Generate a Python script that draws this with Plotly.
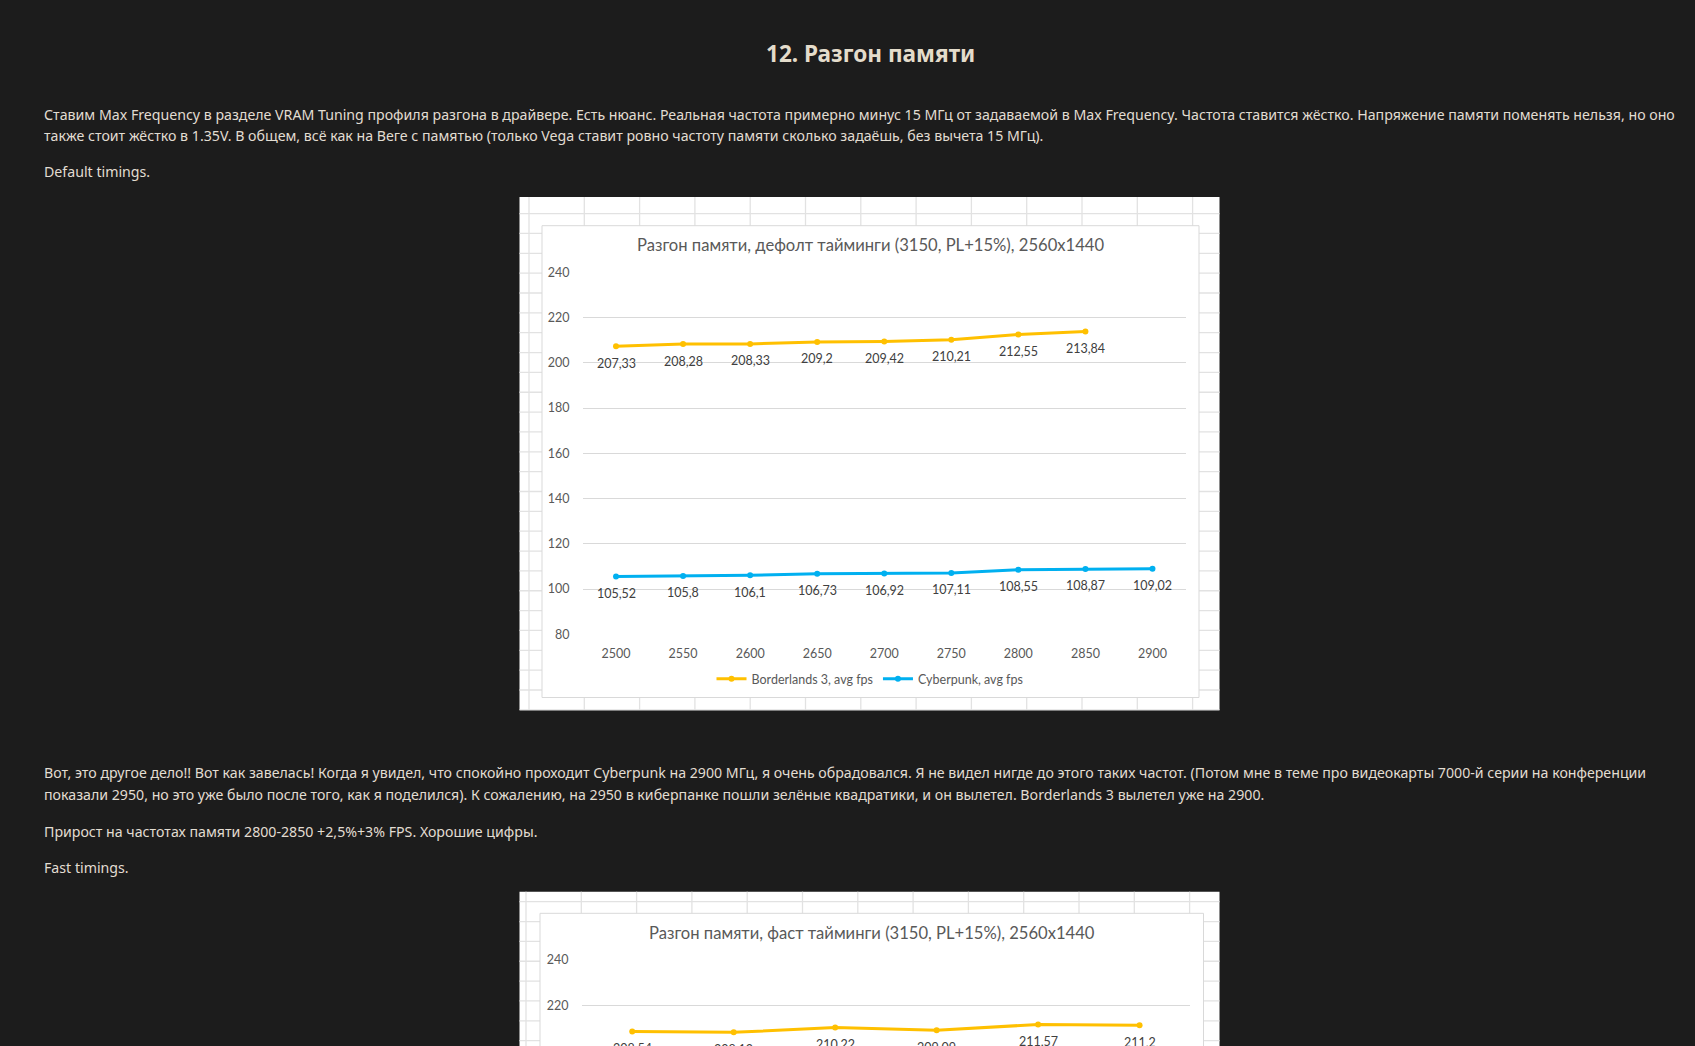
import plotly.graph_objects as go

W, H = 1695, 1046

# ---------------- data ----------------
freq_default = ["2500", "2550", "2600", "2650", "2700", "2750", "2800", "2850", "2900"]
bl3_default = [207.33, 208.28, 208.33, 209.2, 209.42, 210.21, 212.55, 213.84, None]
cp_default = [105.52, 105.8, 106.1, 106.73, 106.92, 107.11, 108.55, 108.87, 109.02]

freq_fast = ["2500", "2550", "2600", "2650", "2700", "2750"]
bl3_fast = [208.54, 208.12, 210.22, 209.09, 211.57, 211.2]

y_ticks = [80, 100, 120, 140, 160, 180, 200, 220, 240]

page_title = "12. Разгон памяти"
para_lines = [
    ("Ставим Max Frequency в разделе VRAM Tuning профиля разгона в драйвере. Есть нюанс. Реальная частота примерно минус 15 МГц от задаваемой в Max Frequency. Частота ставится жёстко. Напряжение памяти поменять нельзя, но оно", 114),
    ("также стоит жёстко в 1.35V. В общем, всё как на Веге с памятью (только Vega ставит ровно частоту памяти сколько задаёшь, без вычета 15 МГц).", 135.5),
    ("Default timings.", 171),
    ("Вот, это другое дело!! Вот как завелась! Когда я увидел, что спокойно проходит Cyberpunk на 2900 МГц, я очень обрадовался. Я не видел нигде до этого таких частот. (Потом мне в теме про видеокарты 7000-й серии на конференции", 772.5),
    ("показали 2950, но это уже было после того, как я поделился). К сожалению, на 2950 в киберпанке пошли зелёные квадратики, и он вылетел. Borderlands 3 вылетел уже на 2900.", 794),
    ("Прирост на частотах памяти 2800-2850 +2,5%+3% FPS. Хорошие цифры.", 831),
    ("Fast timings.", 867),
]
chart1_title = "Разгон памяти, дефолт тайминги (3150, PL+15%), 2560x1440"
chart2_title = "Разгон памяти, фаст тайминги (3150, PL+15%), 2560x1440"
name_bl3 = "Borderlands 3, avg fps"
name_cp = "Cyberpunk, avg fps"

# ---------------- style ----------------
BG = "#1c1c1c"
TXT = "#e2ddd2"
TITLE_TXT = "#e4dccb"
ORANGE = "#FFC000"
BLUE = "#00B0F0"
AX_TXT = "#595959"
LBL_TXT = "#404040"
GRID = "#d9d9d9"
SHEET = "#e2e2e2"
PAGE_FONT = "Noto Sans"
CH_FONT = "Lato, Carlito, Noto Sans"


def px(xp):
    return xp / W


def py(yp):
    return 1 - yp / H


def fmt(v):
    return f"{v:g}".replace(".", ",")


fig = go.Figure()

# traces chart 1
fig.add_trace(go.Scatter(x=freq_default, y=bl3_default, name=name_bl3, mode="lines+markers",
                         line=dict(color=ORANGE, width=3), marker=dict(color=ORANGE, size=6),
                         xaxis="x", yaxis="y", connectgaps=False))
fig.add_trace(go.Scatter(x=freq_default, y=cp_default, name=name_cp, mode="lines+markers",
                         line=dict(color=BLUE, width=3), marker=dict(color=BLUE, size=6),
                         xaxis="x", yaxis="y"))
# chart 2
fig.add_trace(go.Scatter(x=freq_fast, y=bl3_fast, name=name_bl3, mode="lines+markers",
                         line=dict(color=ORANGE, width=3), marker=dict(color=ORANGE, size=6),
                         xaxis="x2", yaxis="y2", showlegend=False))

annotations = []
# data labels (x given as category index)
for xs, ys, xr, yr in [(freq_default, bl3_default, "x", "y"), (freq_default, cp_default, "x", "y"),
                       (freq_fast, bl3_fast, "x2", "y2")]:
    for i, (xv, yv) in enumerate(zip(xs, ys)):
        if yv is None:
            continue
        annotations.append(dict(x=i, y=yv, xref=xr, yref=yr, text=fmt(yv), showarrow=False,
                                yshift=-17, font=dict(family=CH_FONT, size=12.5, color=LBL_TXT)))

# page title and text
annotations.append(dict(x=px(870), y=py(54), xref="paper", yref="paper", text=f"<b>{page_title}</b>",
                        showarrow=False, xanchor="center", yanchor="middle",
                        font=dict(family=PAGE_FONT, size=22.6, color=TITLE_TXT)))
for t, yp in para_lines:
    annotations.append(dict(x=px(42), y=py(yp), xref="paper", yref="paper", text=t, showarrow=False,
                            xanchor="left", yanchor="middle",
                            font=dict(family=PAGE_FONT, size=14.18, color=TXT)))
# chart titles
annotations.append(dict(x=px(870.5), y=py(245), xref="paper", yref="paper", text=chart1_title,
                        showarrow=False, xanchor="center", yanchor="middle",
                        font=dict(family=CH_FONT, size=16.6, color=AX_TXT)))
annotations.append(dict(x=px(872), y=py(933), xref="paper", yref="paper", text=chart2_title,
                        showarrow=False, xanchor="center", yanchor="middle",
                        font=dict(family=CH_FONT, size=16.6, color=AX_TXT)))

# ---------------- background shapes (screenshot of spreadsheet) ----------------
shapes = []


def sheet(x0, x1, y0, y1, gx0, gy0, box):
    shapes.append(dict(type="rect", xref="paper", yref="paper", x0=px(x0), x1=px(x1), y0=py(y1), y1=py(y0),
                       fillcolor="#ffffff", line=dict(width=0), layer="below"))
    gx = gx0
    while gx < x1:
        if gx > x0:
            shapes.append(dict(type="line", xref="paper", yref="paper", x0=px(gx), x1=px(gx), y0=py(y1), y1=py(y0),
                               line=dict(color=SHEET, width=1.3), layer="below"))
        gx += 55.3
    gy = gy0
    while gy < y1:
        if gy > y0:
            shapes.append(dict(type="line", xref="paper", yref="paper", x0=px(x0), x1=px(x1), y0=py(gy), y1=py(gy),
                               line=dict(color=SHEET, width=1.3), layer="below"))
        gy += 19.85
    bx0, bx1, by0, by1 = box
    shapes.append(dict(type="rect", xref="paper", yref="paper", x0=px(bx0), x1=px(bx1), y0=py(by1), y1=py(by0),
                       fillcolor="#ffffff", line=dict(color=GRID, width=1), layer="below"))


sheet(519.5, 1219.5, 197, 710, 529, 213.6, (542, 1199, 225.7, 697.5))
sheet(519.5, 1219.5, 891.7, 1060, 526, 901.7, (540, 1203.5, 913.3, 1070))

axis_common = dict(showline=False, zeroline=False, ticks="", automargin=False,
                   tickfont=dict(family=CH_FONT, size=12.5, color=AX_TXT))

fig.update_layout(
    width=W, height=H, autosize=False,
    margin=dict(l=0, r=0, t=0, b=0, pad=0, autoexpand=False),
    paper_bgcolor=BG, plot_bgcolor="rgba(0,0,0,0)",
    showlegend=True,
    legend=dict(orientation="h", x=px(870), xanchor="center", y=py(679), yanchor="middle",
                font=dict(family=CH_FONT, size=12.5, color=AX_TXT), bgcolor="rgba(0,0,0,0)",
                itemwidth=30, tracegroupgap=0),
    xaxis=dict(domain=[px(582.5), px(1186)], anchor="y", type="category", range=[-0.5, 8.5],
               showgrid=False, ticklabelstandoff=10, **axis_common),
    yaxis=dict(domain=[py(634.3), py(272.3)], anchor="x", range=[80, 240], tickvals=y_ticks,
               showgrid=True, gridcolor=GRID, gridwidth=1, ticklabelstandoff=12, **axis_common),
    xaxis2=dict(domain=[px(581.5), px(1190.3)], anchor="y2", type="category", range=[-0.5, 5.5],
                showgrid=False, showticklabels=False, **axis_common),
    yaxis2=dict(domain=[0, py(960)], anchor="x2", range=[202.1, 240], tickvals=y_ticks,
                showgrid=True, gridcolor=GRID, gridwidth=1, ticklabelstandoff=12, **axis_common),
    annotations=annotations,
    shapes=shapes,
)

fig.write_html(
    "out.html",
    config={"displayModeBar": False},
    post_script="document.body.style.margin='0';document.body.style.background='#1c1c1c';"
                "document.body.style.overflow='hidden';",
)
